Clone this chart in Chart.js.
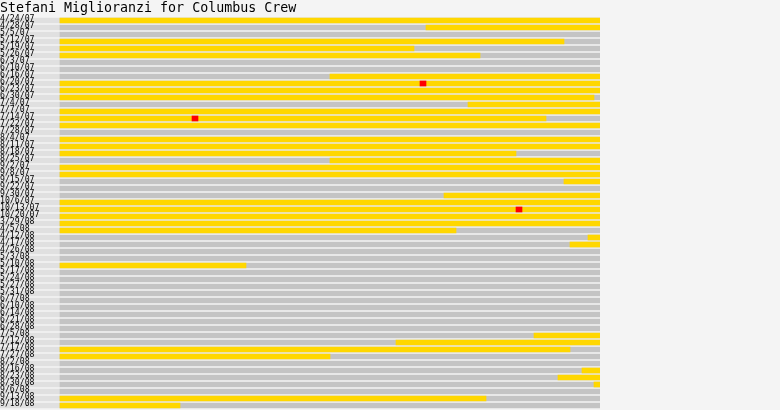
<!DOCTYPE html>
<html>
<head>
<meta charset="utf-8">
<script src="https://cdn.jsdelivr.net/npm/chart.js@4/dist/chart.umd.min.js"></script>
<style>
  html, body { margin: 0; padding: 0; background: #f4f4f4; }
  #wrap { width: 780px; height: 410px; }
</style>
</head>
<body>
<div id="wrap"><canvas id="c" width="780" height="410"></canvas></div>
<script>
const chartTitle = "Stefani Miglioranzi for Columbus Crew";
const games = ["4/24/07","4/28/07","5/5/07","5/12/07","5/19/07","5/26/07","6/3/07","6/10/07","6/16/07","6/20/07",
  "6/23/07","6/30/07","7/4/07","7/7/07","7/14/07","7/22/07","7/28/07","8/4/07","8/11/07","8/18/07",
  "8/25/07","9/2/07","9/8/07","9/15/07","9/22/07","9/30/07","10/6/07","10/13/07","10/20/07","3/29/08",
  "4/5/08","4/12/08","4/17/08","4/26/08","5/3/08","5/10/08","5/17/08","5/24/08","5/27/08","5/31/08",
  "6/7/08","6/10/08","6/14/08","6/21/08","6/28/08","7/5/08","7/12/08","7/17/08","7/27/08","8/2/08",
  "8/16/08","8/23/08","8/30/08","9/6/08","9/13/08","9/18/08"];
// minute the player came on / went off (null = did not play)
const onMinute  = [0,61,null,0,0,0,null,null,45,0, 0,0,68,0,0,0,null,0,0,0, 45,0,0,84,null,64,0,0,0,0,
  0,88,85,null,null,0,null,null,null,null, null,null,null,null,null,79,56,0,0,null, 87,83,89,null,0,0];
const offMinute = [90,90,null,84,59,70,null,null,90,90, 90,89,90,90,81,90,null,90,90,76, 90,90,90,90,null,90,90,90,90,90,
  66,90,90,null,null,31,null,null,null,null, null,null,null,null,null,90,90,85,45,null, 90,90,90,null,71,20];
// goals: game index and minute
const goalGame   = [9, 14, 27];
const goalMinute = [60, 22, 76];
const matchLength = 90;
const labelSpan = 10;

const playedData = games.map((g, i) => onMinute[i] == null ? null : [onMinute[i], offMinute[i]]);
const goalData = games.map(() => null);
goalGame.forEach((gi, k) => { goalData[gi] = [goalMinute[k], goalMinute[k] + 1]; });
const fullData = games.map(() => [0, matchLength]);
const labelBgData = games.map(() => [-labelSpan, 0]);

const common = { grouped: false, barThickness: 5, borderWidth: 0, borderSkipped: false };

new Chart(document.getElementById('c'), {
  type: 'bar',
  data: {
    labels: games,
    datasets: [
      Object.assign({ label: 'Goal', data: goalData, backgroundColor: '#ff0000' }, common),
      Object.assign({ label: 'Played', data: playedData, backgroundColor: '#ffd700' }, common),
      Object.assign({ label: 'Match', data: fullData, backgroundColor: '#c4c4c4' }, common),
      Object.assign({ label: 'Label', data: labelBgData, backgroundColor: '#e0e0e0' }, common)
    ]
  },
  options: {
    indexAxis: 'y',
    responsive: false,
    animation: false,
    devicePixelRatio: 1,
    layout: { padding: { left: 0, right: 180, top: 0, bottom: 1 } },
    plugins: {
      legend: { display: false },
      tooltip: { enabled: false },
      title: {
        display: true,
        text: chartTitle,
        align: 'start',
        color: '#000',
        font: { family: 'DejaVu Sans Mono', size: 13.3, weight: 'normal', lineHeight: '16px' },
        padding: { top: 1, bottom: 0 }
      }
    },
    scales: {
      x: { display: false, min: -labelSpan, max: matchLength },
      y: {
        display: true,
        grid: { display: false, drawTicks: false, tickLength: 0 },
        border: { display: false },
        ticks: {
          mirror: true,
          padding: 0,
          z: 1,
          autoSkip: false,
          labelOffset: -2,
          color: '#000',
          font: { family: 'DejaVu Sans Mono', size: 8.2, lineHeight: '2px' }
        }
      }
    }
  }
});
</script>
</body>
</html>
